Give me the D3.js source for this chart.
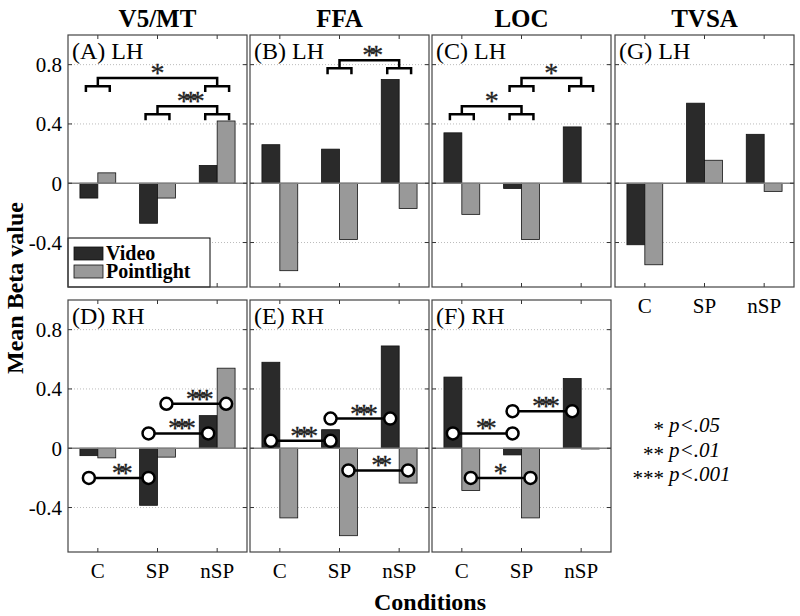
<!DOCTYPE html>
<html><head><meta charset="utf-8">
<script src="https://cdn.jsdelivr.net/npm/d3@7"></script>
<style>body{margin:0;background:#fff}svg{display:block}</style>
</head><body><svg id="c" width="800" height="616" font-family="'Liberation Serif', 'Times New Roman', Times, 'DejaVu Serif', serif"></svg>
<script>
// ---------- data ----------
const conditions = ["C", "SP", "nSP"];
const regions = ["V5/MT", "FFA", "LOC", "TVSA"];
const seriesNames = ["Video", "Pointlight"];
const yTicks = [-0.4, 0, 0.4, 0.8];
const yTickLabels = ["-0.4", "0", "0.4", "0.8"];
const panelIds = ["A", "B", "C", "G", "D", "E", "F"];
const panelLabels = ["(A) LH", "(B) LH", "(C) LH", "(G) LH", "(D) RH", "(E) RH", "(F) RH"];
const panelRow = [0, 0, 0, 0, 1, 1, 1];
const panelCol = [0, 1, 2, 3, 0, 1, 2];
const videoVals = {
  A: [-0.10, -0.27, 0.12],
  B: [0.26, 0.23, 0.70],
  C: [0.34, -0.035, 0.38],
  G: [-0.415, 0.54, 0.33],
  D: [-0.05, -0.385, 0.22],
  E: [0.58, 0.125, 0.69],
  F: [0.48, -0.045, 0.47]
};
const pointVals = {
  A: [0.07, -0.10, 0.42],
  B: [-0.59, -0.38, -0.17],
  C: [-0.21, -0.38, 0.0],
  G: [-0.55, 0.155, -0.055],
  D: [-0.065, -0.06, 0.54],
  E: [-0.47, -0.59, -0.235],
  F: [-0.285, -0.47, -0.005]
};
// bracket comparisons (top row): between condition groups
const brackets = [
  {panel: "A", from: 0, to: 2, level: 0.71, stars: "*"},
  {panel: "A", from: 1, to: 2, level: 0.52, stars: "***"},
  {panel: "B", from: 1, to: 2, level: 0.83, stars: "**"},
  {panel: "C", from: 0, to: 1, level: 0.52, stars: "*"},
  {panel: "C", from: 1, to: 2, level: 0.71, stars: "*"}
];
// circle-line comparisons (bottom row): series 0 = Video, 1 = Pointlight
const links = [
  {panel: "D", from: 0, to: 1, series: 0, level: -0.2, stars: "**"},
  {panel: "D", from: 1, to: 2, series: 0, level: 0.10, stars: "***"},
  {panel: "D", from: 1, to: 2, series: 1, level: 0.30, stars: "***"},
  {panel: "E", from: 0, to: 1, series: 0, level: 0.05, stars: "***"},
  {panel: "E", from: 1, to: 2, series: 0, level: 0.20, stars: "***"},
  {panel: "E", from: 1, to: 2, series: 1, level: -0.15, stars: "**"},
  {panel: "F", from: 0, to: 1, series: 0, level: 0.10, stars: "**"},
  {panel: "F", from: 1, to: 2, series: 0, level: 0.25, stars: "***"},
  {panel: "F", from: 0, to: 1, series: 1, level: -0.2, stars: "*"}
];
const sigStars = ["*", "**", "***"];
const sigText = ["p<.05", "p<.01", "p<.001"];

// ---------- layout ----------
const svg = d3.select("#c");
const colX = [68, 250, 432, 615];
const rowY = [35, 300];
const pw = 179, ph = 252;
const barW = 0.3;
const colors = ["#2a2a2a", "#999999"];

const y0 = d3.scaleLinear().domain([-0.7, 1.0]).range([ph, 0]);

function starText(g, x, y, s) {
  g.append("text").attr("x", x).attr("y", y).attr("text-anchor", "middle")
    .attr("font-size", 28).attr("letter-spacing", s.length > 1 ? -7 : 0)
    .attr("fill", "#222").attr("stroke", "#222").attr("stroke-width", 0.3).text(s);
}

panelIds.forEach((id, i) => {
  const left = colX[panelCol[i]], top = rowY[panelRow[i]];
  const g = svg.append("g").attr("transform", `translate(${left},${top})`);
  const x = d3.scaleLinear().domain([0.5, 3.5]).range([0, pw]);
  const y = y0;
  // grid
  g.selectAll(".grid").data(yTicks.filter(t => t !== 0)).join("line")
    .attr("x1", 0).attr("x2", pw).attr("y1", d => y(d)).attr("y2", d => y(d))
    .attr("stroke", "#bbb").attr("stroke-width", 1).attr("stroke-dasharray", "1,2");
  // bars
  const rows = [];
  conditions.forEach((c, k) => {
    rows.push({k, s: 0, v: videoVals[id][k]});
    rows.push({k, s: 1, v: pointVals[id][k]});
  });
  g.selectAll(".bar").data(rows).join("rect")
    .attr("x", d => x(k1(d.k) - barW + d.s * barW))
    .attr("width", x(barW) - x(0))
    .attr("y", d => y(Math.max(0, d.v)))
    .attr("height", d => Math.abs(y(d.v) - y(0)))
    .attr("fill", d => colors[d.s]).attr("stroke", "#111").attr("stroke-width", 0.8);
  // zero line
  g.append("line").attr("x1", 0).attr("x2", pw).attr("y1", y(0)).attr("y2", y(0))
    .attr("stroke", "#808080").attr("stroke-width", 1.5);
  // ticks
  conditions.forEach((c, k) => {
    const xx = x(k1(k));
    g.append("line").attr("x1", xx).attr("x2", xx).attr("y1", ph).attr("y2", ph - 4).attr("stroke", "#333");
    g.append("line").attr("x1", xx).attr("x2", xx).attr("y1", 0).attr("y2", 4).attr("stroke", "#333");
  });
  yTicks.forEach(t => {
    g.append("line").attr("x1", 0).attr("x2", 4).attr("y1", y(t)).attr("y2", y(t)).attr("stroke", "#333");
    g.append("line").attr("x1", pw).attr("x2", pw - 4).attr("y1", y(t)).attr("y2", y(t)).attr("stroke", "#333");
  });
  // y tick labels
  if (panelCol[i] === 0) {
    yTicks.forEach((t, j) => {
      g.append("text").attr("x", -6).attr("y", y(t)).attr("dy", "0.35em")
        .attr("text-anchor", "end").attr("font-size", 21).text(yTickLabels[j]);
    });
  }
  // x tick labels
  if (panelRow[i] === 1 || id === "G") {
    conditions.forEach((c, k) => {
      g.append("text").attr("x", x(k1(k))).attr("y", ph + 26).attr("text-anchor", "middle")
        .attr("font-size", 21).text(c);
    });
  }
  // brackets
  brackets.filter(b => b.panel === id).forEach(b => {
    const ly = y(b.level), ey = y(b.level - 0.055), ty = y(b.level - 0.095);
    const xa = x(k1(b.from)), xb = x(k1(b.to));
    const path = d3.path();
    path.moveTo(xa, ey); path.lineTo(xa, ly); path.lineTo(xb, ly); path.lineTo(xb, ey);
    [xa, xb].forEach(xc => {
      const l = xc - (x(0.2) - x(0)), r = xc + (x(0.2) - x(0));
      path.moveTo(l, ty); path.lineTo(l, ey); path.lineTo(r, ey); path.lineTo(r, ty);
    });
    g.append("path").attr("d", path.toString()).attr("fill", "none")
      .attr("stroke", "#000").attr("stroke-width", 2.5);
    starText(g, (xa + xb) / 2, ly + 4, b.stars);
  });
  // circle links
  links.filter(l => l.panel === id).forEach(l => {
    const off = l.series === 0 ? -barW / 2 : barW / 2;
    const xa = x(k1(l.from) + off), xb = x(k1(l.to) + off), ly = y(l.level);
    g.append("line").attr("x1", xa).attr("x2", xb).attr("y1", ly).attr("y2", ly)
      .attr("stroke", "#000").attr("stroke-width", 2.5);
    starText(g, (xa + xb) / 2, ly + 4, l.stars);
    [xa, xb].forEach(xc => g.append("circle").attr("cx", xc).attr("cy", ly).attr("r", 6)
      .attr("fill", "#fff").attr("stroke", "#000").attr("stroke-width", 2.5));
  });
  // panel label
  g.append("text").attr("x", 4).attr("y", 24).attr("font-size", 24).text(panelLabels[i]);
  // legend in panel A
  if (id === "A") {
    const lg = g.append("g");
    lg.append("rect").attr("x", 0).attr("y", 203).attr("width", 142).attr("height", ph - 203)
      .attr("fill", "#fff").attr("stroke", "#000").attr("stroke-width", 1);
    seriesNames.forEach((s, j) => {
      lg.append("rect").attr("x", 6).attr("y", 212 + j * 18).attr("width", 29).attr("height", 13)
        .attr("fill", colors[j]).attr("stroke", "#111").attr("stroke-width", 0.8);
      lg.append("text").attr("x", 38).attr("y", 225 + j * 18).attr("font-size", 20)
        .attr("font-weight", "bold").text(s);
    });
  }
  // border
  g.append("rect").attr("x", 0).attr("y", 0).attr("width", pw).attr("height", ph)
    .attr("fill", "none").attr("stroke", "#444").attr("stroke-width", 1.2);
});
function k1(k) { return k + 1; }

// column titles
regions.forEach((r, j) => {
  svg.append("text").attr("x", colX[j] + pw / 2).attr("y", 27).attr("text-anchor", "middle")
    .attr("font-size", 25).attr("font-weight", "bold").text(r);
});
// axis titles
svg.append("text").attr("transform", "translate(23,288) rotate(-90)").attr("text-anchor", "middle")
  .attr("font-size", 24).attr("font-weight", "bold").text("Mean Beta value");
svg.append("text").attr("x", 430).attr("y", 610).attr("text-anchor", "middle")
  .attr("font-size", 24).attr("font-weight", "bold").text("Conditions");
// significance key
sigStars.forEach((s, j) => {
  svg.append("text").attr("x", 664).attr("y", 436 + j * 24.5).attr("text-anchor", "end")
    .attr("font-size", 21).text(s);
  svg.append("text").attr("x", 669).attr("y", 432 + j * 24.5).attr("font-size", 21)
    .attr("font-style", "italic").text(sigText[j]);
});
</script></body></html>
